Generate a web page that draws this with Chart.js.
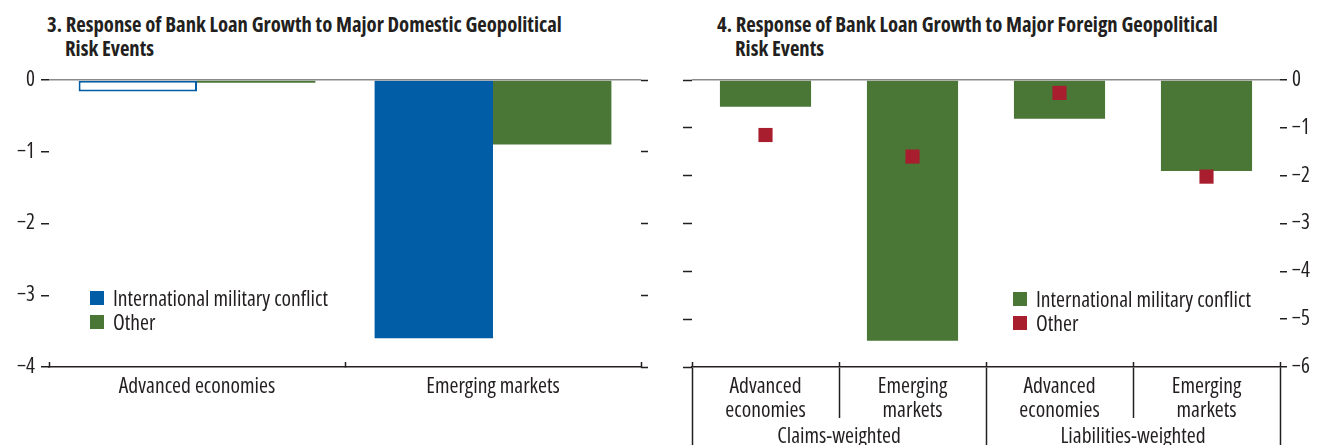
<!DOCTYPE html>
<html>
<head>
<meta charset="utf-8">
<script src="https://cdn.jsdelivr.net/npm/chart.js@4.4.1/dist/chart.umd.min.js"></script>
<style>
  html, body { margin: 0; padding: 0; background: #fff; }
  body {
    position: relative; width: 1320px; height: 445px; overflow: hidden;
    font-family: 'Open Sans', sans-serif; font-stretch: 75%;
    color: #231f20;
  }
  canvas { position: absolute; top: 0; }
  #domestic { left: 0; }
  #foreign { left: 660px; }
  .title {
    position: absolute; top: 12px; font-weight: bold; font-size: 20.7px; line-height: 24px;
    white-space: nowrap;
  }
  .title .cont { padding-left: 18px; }
  .legend { position: absolute; font-size: 21.6px; line-height: 24px; z-index: 2; }
  .legend .row { display: flex; align-items: center; height: 24px; white-space: nowrap; }
  .legend .sw { width: 14px; height: 14px; margin-right: 9px; flex: none; }
</style>
</head>
<body>
<div class="title" style="left:47px">3. Response of Bank Loan Growth to Major Domestic Geopolitical<br><span class="cont">Risk Events</span></div>
<div class="title" style="left:717px">4. Response of Bank Loan Growth to Major Foreign Geopolitical<br><span class="cont">Risk Events</span></div>
<canvas id="domestic" width="660" height="445"></canvas>
<canvas id="foreign" width="660" height="445"></canvas>
<div class="legend" id="legendDomestic" style="left:90px; top:286px"></div>
<div class="legend" id="legendForeign" style="left:1013px; top:287px"></div>
<script>
// ---- Panel 3: domestic geopolitical risk events ----
const domesticCategories = ['Advanced economies', 'Emerging markets'];
const domesticMilitary = [-0.16, -3.6];      // International military conflict
const domesticMilitaryHollow = [true, false]; // hollow bar = outlined only
const domesticOther = [-0.04, -0.9];
const domesticTickLabels = ['\u22124', '\u22123', '\u22122', '\u22121', '0'];

// ---- Panel 4: foreign geopolitical risk events ----
const foreignCategories = [['Advanced', 'economies'], ['Emerging', 'markets'], ['Advanced', 'economies'], ['Emerging', 'markets']];
const foreignGroups = ['Claims-weighted', 'Liabilities-weighted'];
const foreignMilitary = [-0.56, -5.45, -0.81, -1.90];
const foreignOther = [-1.15, -1.60, -0.27, -2.02];
const foreignTickLabels = ['\u22126', '\u22125', '\u22124', '\u22123', '\u22122', '\u22121', '0'];

const seriesNames = ['International military conflict', 'Other'];

const BLUE = '#005da6';
const GREEN = '#4a7636';
const RED = '#a81e2e';
const INK = '#231f20';
const ZERO_LINE = '#8a8a8a';
const CLEAR = 'rgba(0,0,0,0)';

// condensed Open Sans for all canvas text
Chart.defaults.font.family = "'Open Sans', sans-serif";
Chart.defaults.font.weight = 'normal condensed';
Chart.defaults.font.size = 21;
Chart.defaults.color = INK;

const axisLabelFont = { size: 21.6, lineHeight: 1.11 };
const fixedWidth = w => scale => { scale.width = w; };
const fixedHeight = h => scale => { scale.height = h; };
const zeroLineColor = ctx => (ctx.tick && ctx.tick.value === 0 ? ZERO_LINE : CLEAR);

const common = {
  responsive: false,
  animation: false,
  events: [],
  plugins: { legend: { display: false }, tooltip: { enabled: false } }
};

new Chart(document.getElementById('domestic'), {
  type: 'bar',
  data: {
    labels: domesticCategories,
    datasets: [
      {
        label: seriesNames[0],
        data: domesticMilitary,
        backgroundColor: domesticMilitaryHollow.map(h => (h ? '#ffffff' : BLUE)),
        borderColor: BLUE,
        borderWidth: domesticMilitaryHollow.map(h => (h ? 2 : 0)),
        borderSkipped: false
      },
      {
        label: seriesNames[1],
        data: domesticOther,
        backgroundColor: GREEN,
        borderWidth: 0
      }
    ]
  },
  options: {
    ...common,
    layout: { padding: { left: 0, right: 11, top: 80, bottom: 0 } },
    datasets: { bar: { categoryPercentage: 0.8, barPercentage: 1 } },
    scales: {
      x: {
        offset: true,
        grid: { offset: true, drawOnChartArea: false, tickLength: -5, tickColor: INK, tickWidth: 1.5 },
        border: { display: true, color: INK, width: 1.5 },
        ticks: { padding: 13, font: axisLabelFont, maxRotation: 0 },
        afterFit: fixedHeight(78)
      },
      y: {
        position: 'left',
        min: -4, max: 0,
        ticks: { stepSize: 1, padding: 6, callback: (v, i) => domesticTickLabels[i] },
        grid: { z: 1, color: zeroLineColor, lineWidth: 1.5, tickLength: 8, tickColor: INK, tickWidth: 1.5 },
        border: { display: false },
        afterFit: fixedWidth(49)
      },
      y2: {
        position: 'right',
        min: -4, max: 0,
        ticks: { stepSize: 1, display: false },
        grid: { drawOnChartArea: false, tickLength: 7, tickColor: INK, tickWidth: 1.5 },
        border: { display: false },
        afterFit: fixedWidth(8)
      }
    }
  }
});

new Chart(document.getElementById('foreign'), {
  type: 'bar',
  data: {
    labels: foreignCategories,
    datasets: [
      {
        type: 'line',
        label: seriesNames[1],
        data: foreignOther,
        xAxisID: 'x1', yAxisID: 'y',
        showLine: false,
        pointStyle: 'rect',
        pointRadius: 10,
        pointBackgroundColor: RED,
        pointBorderWidth: 0,
        order: 0
      },
      {
        label: seriesNames[0],
        data: foreignMilitary,
        xAxisID: 'x1', yAxisID: 'y',
        backgroundColor: GREEN,
        borderWidth: 0,
        categoryPercentage: 0.62,
        barPercentage: 1,
        order: 1
      }
    ]
  },
  options: {
    ...common,
    layout: { padding: { left: 23, right: 0, top: 80, bottom: 0 } },
    scales: {
      x0: {
        type: 'category', labels: foreignCategories, position: 'bottom', weight: 0, offset: true,
        grid: { offset: true, drawOnChartArea: false, tickLength: -5, tickColor: INK, tickWidth: 1.5 },
        border: { display: false },
        ticks: { display: false },
        afterFit: fixedHeight(0)
      },
      x1: {
        type: 'category', position: 'bottom', weight: 1, offset: true,
        grid: { offset: true, drawOnChartArea: false, tickLength: 51, tickColor: INK, tickWidth: 1.5 },
        border: { display: true, color: INK, width: 1.5 },
        ticks: { padding: -43, font: axisLabelFont, maxRotation: 0 },
        afterFit: fixedHeight(51)
      },
      x2: {
        type: 'category', labels: foreignGroups, position: 'bottom', weight: 2, offset: true,
        grid: { offset: true, drawOnChartArea: false, tickLength: 40, tickColor: INK, tickWidth: 1.5 },
        border: { display: false },
        ticks: { padding: -33, font: axisLabelFont, maxRotation: 0 },
        afterFit: fixedHeight(27)
      },
      yl: {
        position: 'left',
        min: -6, max: 0,
        ticks: { stepSize: 1, display: false },
        grid: { drawOnChartArea: false, tickLength: 9, tickColor: INK, tickWidth: 1.5 },
        border: { display: false },
        afterFit: fixedWidth(9)
      },
      y: {
        position: 'right',
        min: -6, max: 0,
        ticks: { stepSize: 1, padding: 5, callback: (v, i) => foreignTickLabels[i] },
        grid: { z: 1, color: zeroLineColor, lineWidth: 1.5, tickLength: 7, tickColor: INK, tickWidth: 1.5 },
        border: { display: false },
        afterFit: fixedWidth(40)
      }
    }
  }
});

// HTML legends built from the series names and colours
function buildLegend(id, colors) {
  const box = document.getElementById(id);
  seriesNames.forEach((name, i) => {
    const row = document.createElement('div');
    row.className = 'row';
    const sw = document.createElement('span');
    sw.className = 'sw';
    sw.style.background = colors[i];
    const txt = document.createElement('span');
    txt.textContent = name;
    row.appendChild(sw);
    row.appendChild(txt);
    box.appendChild(row);
  });
}
buildLegend('legendDomestic', [BLUE, GREEN]);
buildLegend('legendForeign', [GREEN, RED]);
</script>
</body>
</html>
